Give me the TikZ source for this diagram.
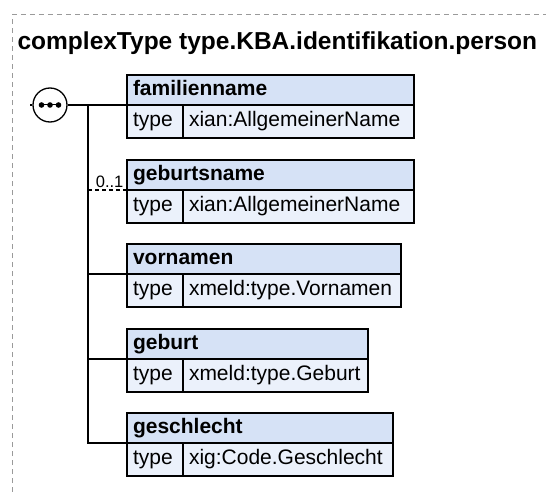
\documentclass[tikz,border=0pt]{standalone}
\usepackage{fontspec}
\setmainfont{Liberation Sans}
\definecolor{hdrblue}{HTML}{D6E2F6}
\definecolor{rowblue}{HTML}{EBF1FB}
\definecolor{framegray}{HTML}{9A9A9A}
\begin{document}
\begin{tikzpicture}[x=1pt,y=-1pt,line width=1.2pt,
  hdr/.style={draw=black, fill=hdrblue, anchor=north west, inner xsep=6pt, inner ysep=0pt, outer sep=0pt,
    minimum height=30pt, text height=15pt, text depth=4.5pt, align=left,
    font=\fontsize{21}{25}\selectfont\bfseries},
  rowc/.style={draw=black, fill=rowblue, anchor=north west, inner xsep=6pt, inner ysep=0pt, outer sep=0pt,
    minimum height=33pt, text height=15pt, text depth=4.5pt, align=left,
    font=\fontsize{21}{25}\selectfont},
  conn/.style={line width=1.3pt, draw=black},
  optconn/.style={line width=1.3pt, draw=black, dash pattern=on 4pt off 3pt},
  framestyle/.style={draw=framegray, line width=1pt, dash pattern=on 5pt off 4pt},
  mult/.style={anchor=south east, inner sep=0pt, font=\fontsize{16.5}{18}\selectfont}
]
\useasboundingbox (0,0) rectangle (546,492);
\clip (0,0) rectangle (546,492);
% frame
\draw[framestyle] (12.5,600) -- (12.5,14.5) -- (600,14.5);
% title
\node[anchor=base west, inner sep=0pt, font=\fontsize{24.5}{29}\selectfont\bfseries] (title) at (17,50) {complexType type.KBA.identifikation.person};

% elements
\node[hdr, text width=275pt] (famh) at (127,75) {familienname};
\node[rowc, text width=44pt] (famt) at (famh.south west) {type};
\node[rowc, text width=219pt] (famv) at (famt.north east) {xian:AllgemeinerName};

\node[hdr, text width=275pt] (gebh) at (127,160) {geburtsname};
\node[rowc, text width=44pt] (gebt) at (gebh.south west) {type};
\node[rowc, text width=219pt] (gebv) at (gebt.north east) {xian:AllgemeinerName};

\node[hdr, text width=262pt] (vorh) at (127,244) {vornamen};
\node[rowc, text width=44pt] (vort) at (vorh.south west) {type};
\node[rowc, text width=206pt] (vorv) at (vort.north east) {xmeld:type.Vornamen};

\node[hdr, text width=229pt] (gbth) at (127,329) {geburt};
\node[rowc, text width=44pt] (gbtt) at (gbth.south west) {type};
\node[rowc, text width=173pt] (gbtv) at (gbtt.north east) {xmeld:type.Geburt};

\node[hdr, text width=254pt] (gesh) at (127,413) {geschlecht};
\node[rowc, text width=44pt] (gest) at (gesh.south west) {type};
\node[rowc, text width=198pt] (gesv) at (gest.north east) {xig:Code.Geschlecht};

% sequence compositor
\coordinate (in) at (30,105);
\coordinate (trunk) at (88,105);
\node[circle, draw=black, fill=white, line width=1.3pt, minimum size=34pt, inner sep=0pt] (seq) at (50,105) {};
\draw[conn] (in) -- (seq.west);
\draw[conn] (seq.east) -- (famh.south west);
\draw[line width=1pt] ([xshift=-10.5pt]seq.center) -- ([xshift=10.5pt]seq.center);
\fill ([xshift=-8.5pt]seq.center) circle (2.8pt);
\fill (seq.center) circle (2.8pt);
\fill ([xshift=8.5pt]seq.center) circle (2.8pt);

% trunk and branches
\draw[conn] (trunk) -- (trunk |- gesh.south west) -- (gesh.south west);
\draw[optconn] (trunk |- gebh.south west) -- (gebh.south west);
\draw[conn] (trunk |- vorh.south west) -- (vorh.south west);
\draw[conn] (trunk |- gbth.south west) -- (gbth.south west);
\node[mult] (m01) at ([xshift=-3pt,yshift=1.5pt]gebh.south west) {0..1};
\end{tikzpicture}
\end{document}
